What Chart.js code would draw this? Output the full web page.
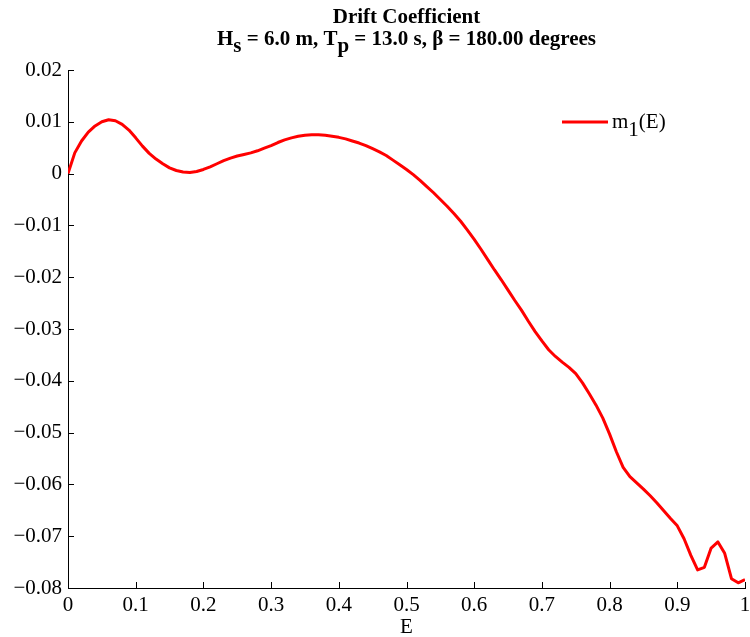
<!DOCTYPE html>
<html>
<head>
<meta charset="utf-8">
<script src="https://cdn.jsdelivr.net/npm/chart.js@4/dist/chart.umd.min.js"></script>
<style>
  html, body { margin: 0; padding: 0; background: #fff; }
  #wrap { width: 750px; height: 637px; }
</style>
</head>
<body>
<div id="wrap"><canvas id="c" width="750" height="637"></canvas></div>
<script>
// Normalised energy E and first drift-coefficient moment m1(E)
const eValues = [
  0.00, 0.01, 0.02, 0.03, 0.04, 0.05, 0.06, 0.07, 0.08, 0.09,
  0.10, 0.11, 0.12, 0.13, 0.14, 0.15, 0.16, 0.17, 0.18, 0.19,
  0.20, 0.21, 0.22, 0.23, 0.24, 0.25, 0.26, 0.27, 0.28, 0.29,
  0.30, 0.31, 0.32, 0.33, 0.34, 0.35, 0.36, 0.37, 0.38, 0.39,
  0.40, 0.41, 0.42, 0.43, 0.44, 0.45, 0.46, 0.47, 0.48, 0.49,
  0.50, 0.51, 0.52, 0.53, 0.54, 0.55, 0.56, 0.57, 0.58, 0.59,
  0.60, 0.61, 0.62, 0.63, 0.64, 0.65, 0.66, 0.67, 0.68, 0.69,
  0.70, 0.71, 0.72, 0.73, 0.74, 0.75, 0.76, 0.77, 0.78, 0.79,
  0.80, 0.81, 0.82, 0.83, 0.84, 0.85, 0.86, 0.87, 0.88, 0.89,
  0.90, 0.91, 0.92, 0.93, 0.94, 0.95, 0.96, 0.97, 0.98, 0.99,
  1.00
];
const m1Values = [
  0.0000, 0.0040, 0.0063, 0.0080, 0.0092, 0.0100, 0.0104, 0.0102, 0.0095, 0.0084,
  0.0069, 0.0053, 0.0039, 0.0028, 0.0019, 0.0011, 0.0006, 0.0003, 0.0002, 0.0004,
  0.0008, 0.0013, 0.0019, 0.0025, 0.0030, 0.0034, 0.0037, 0.0040, 0.0044, 0.0049,
  0.0054, 0.0060, 0.0065, 0.0069, 0.0072, 0.0074, 0.0075, 0.0075, 0.0074, 0.0072,
  0.0070, 0.0067, 0.0063, 0.0059, 0.0054, 0.0048, 0.0042, 0.0035, 0.0026, 0.0017,
  0.0008, -0.0002, -0.0013, -0.0025, -0.0037, -0.0050, -0.0063, -0.0077, -0.0092, -0.0109,
  -0.0127, -0.0146, -0.0166, -0.0186, -0.0205, -0.0225, -0.0245, -0.0264, -0.0285, -0.0305,
  -0.0323, -0.0340, -0.0353, -0.0364, -0.0374, -0.0386, -0.0404, -0.0425, -0.0447, -0.0472,
  -0.0503, -0.0537, -0.0567, -0.0585, -0.0597, -0.0609, -0.0622, -0.0636, -0.0651, -0.0666,
  -0.0680, -0.0705, -0.0737, -0.0765, -0.0760, -0.0723, -0.0711, -0.0733, -0.0782, -0.0790,
  -0.0784
];
const xTickValues = [0, 0.1, 0.2, 0.3, 0.4, 0.5, 0.6, 0.7, 0.8, 0.9, 1];
const yTickValues = [0.02, 0.01, 0, -0.01, -0.02, -0.03, -0.04, -0.05, -0.06, -0.07, -0.08];

const SERIF = '"Liberation Serif", "Times New Roman", serif';
const TICK_FONT = { family: SERIF, size: 21 };

function fmt(v, digits) {
  const r = Math.round(v * 1000) / 1000;
  if (r === 0) return '0';
  if (r === 1) return '1';
  const s = Math.abs(r).toFixed(digits);
  return (r < 0 ? '\u2212' : '') + s;
}

// Draws a run of text pieces, some of them lowered as subscripts
function richWidth(ctx, parts) {
  return parts.reduce((w, p) => w + ctx.measureText(p.t).width, 0);
}
function drawRich(ctx, parts, x, baseline, subDrop) {
  let cx = x;
  parts.forEach(p => {
    ctx.fillText(p.t, cx, baseline + (p.sub ? subDrop : 0));
    cx += ctx.measureText(p.t).width;
  });
}

const decorPlugin = {
  id: 'decor',
  afterDraw(chart) {
    const ctx = chart.ctx;
    const area = chart.chartArea;
    const xs = chart.scales.x, ys = chart.scales.y;
    ctx.save();

    // inward tick marks
    ctx.strokeStyle = '#000';
    ctx.lineWidth = 1;
    ctx.beginPath();
    yTickValues.forEach(v => {
      const py = Math.round(ys.getPixelForValue(v)) + 0.5;
      ctx.moveTo(area.left, py);
      ctx.lineTo(area.left + 6, py);
    });
    xTickValues.forEach(v => {
      const px = Math.round(xs.getPixelForValue(v)) + 0.5;
      ctx.moveTo(px, area.bottom);
      ctx.lineTo(px, area.bottom - 6);
    });
    ctx.stroke();

    // title
    ctx.fillStyle = '#000';
    ctx.textAlign = 'left';
    ctx.textBaseline = 'alphabetic';
    ctx.font = 'bold 21px ' + SERIF;
    const cx = (area.left + area.right) / 2;
    const line1 = [{ t: 'Drift Coefficient' }];
    drawRich(ctx, line1, cx - richWidth(ctx, line1) / 2, 23, 0);
    const line2 = [
      { t: 'H' }, { t: 's', sub: true }, { t: ' = 6.0 m, T' }, { t: 'p', sub: true },
      { t: ' = 13.0 s, \u03B2 = 180.00 degrees' }
    ];
    drawRich(ctx, line2, cx - richWidth(ctx, line2) / 2, 45, 7);

    // legend
    const ds = chart.data.datasets[0];
    ctx.strokeStyle = ds.borderColor;
    ctx.lineWidth = ds.borderWidth;
    ctx.beginPath();
    ctx.moveTo(562, 122);
    ctx.lineTo(608, 122);
    ctx.stroke();
    ctx.font = '21px ' + SERIF;
    drawRich(ctx, [{ t: 'm' }, { t: '1', sub: true }, { t: '(E)' }], 612, 128, 8);

    ctx.restore();
  }
};

new Chart(document.getElementById('c'), {
  type: 'line',
  data: {
    datasets: [{
      label: 'm1(E)',
      data: eValues.map((e, i) => ({ x: e, y: m1Values[i] })),
      borderColor: '#ff0000',
      borderWidth: 3,
      pointRadius: 0,
      tension: 0,
      borderJoinStyle: 'round',
      fill: false
    }]
  },
  options: {
    responsive: false,
    animation: false,
    devicePixelRatio: 1,
    layout: { padding: { left: 0, right: 5, top: 70, bottom: 0 } },
    plugins: {
      legend: { display: false },
      title: { display: false },
      tooltip: { enabled: false }
    },
    scales: {
      x: {
        type: 'linear',
        min: 0, max: 1,
        afterBuildTicks: s => { s.ticks = xTickValues.map(v => ({ value: v })); },
        afterFit: s => { s.height = 49; s.paddingLeft = 0; s.paddingRight = 0; },
        ticks: { font: TICK_FONT, color: '#000', padding: 5, maxRotation: 0,
                 callback: v => fmt(v, 1) },
        grid: { drawOnChartArea: false, drawTicks: false },
        border: { display: true, color: '#000', width: 1 },
        title: { display: true, text: 'E', font: TICK_FONT, color: '#000',
                 padding: { top: 0, bottom: -3 } }
      },
      y: {
        type: 'linear',
        min: -0.08, max: 0.02,
        afterBuildTicks: s => { s.ticks = yTickValues.slice().reverse().map(v => ({ value: v })); },
        afterFit: s => { s.width = 68; s.paddingTop = 0; s.paddingBottom = 0; },
        ticks: { font: TICK_FONT, color: '#000', padding: 6,
                 callback: v => fmt(v, 2) },
        grid: { drawOnChartArea: false, drawTicks: false },
        border: { display: true, color: '#000', width: 1 }
      }
    }
  },
  plugins: [decorPlugin]
});
</script>
</body>
</html>
